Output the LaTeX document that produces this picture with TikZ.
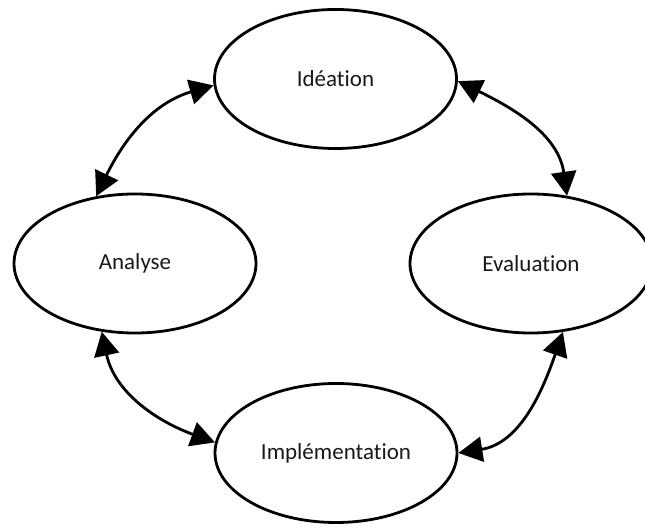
\documentclass[tikz,border=0pt]{standalone}
\usepackage{fontspec}
\setmainfont{Carlito}[Ligatures={NoCommon,NoContextual}]
\usetikzlibrary{arrows.meta,shapes.geometric}
\begin{document}
\begin{tikzpicture}[x=1pt,y=1pt,
  phase/.style={ellipse, draw=black, line width=2.8pt, fill=white,
    minimum width=242pt, minimum height=139pt, inner sep=0pt,
    font=\fontsize{23}{27}\selectfont, text=black!90},
  arr/.style={line width=2.8pt, {Triangle[length=24pt,width=25pt]}-{Triangle[length=24pt,width=25pt]}}]
\clip (0,0) rectangle (645,527);
\useasboundingbox (0,0) rectangle (645,527);
\node[phase] (ide) at (335.5,448) {Idéation};
\node[phase] (ana) at (135,263.5) {Analyse};
\node[phase] (eva) at (531,263.5) {Evaluation};
\node[phase] (imp) at (336,74) {Implémentation};
\draw[arr] (ana.120) to[out=64, in=196] (ide.183);
\draw[arr] (ide.359) to[out=-26, in=98] (eva.62);
\draw[arr] (ana.244) to[out=-78, in=160] (imp.175);
\draw[arr] (imp.0) to[out=9, in=251] (eva.295);
\end{tikzpicture}
\end{document}
